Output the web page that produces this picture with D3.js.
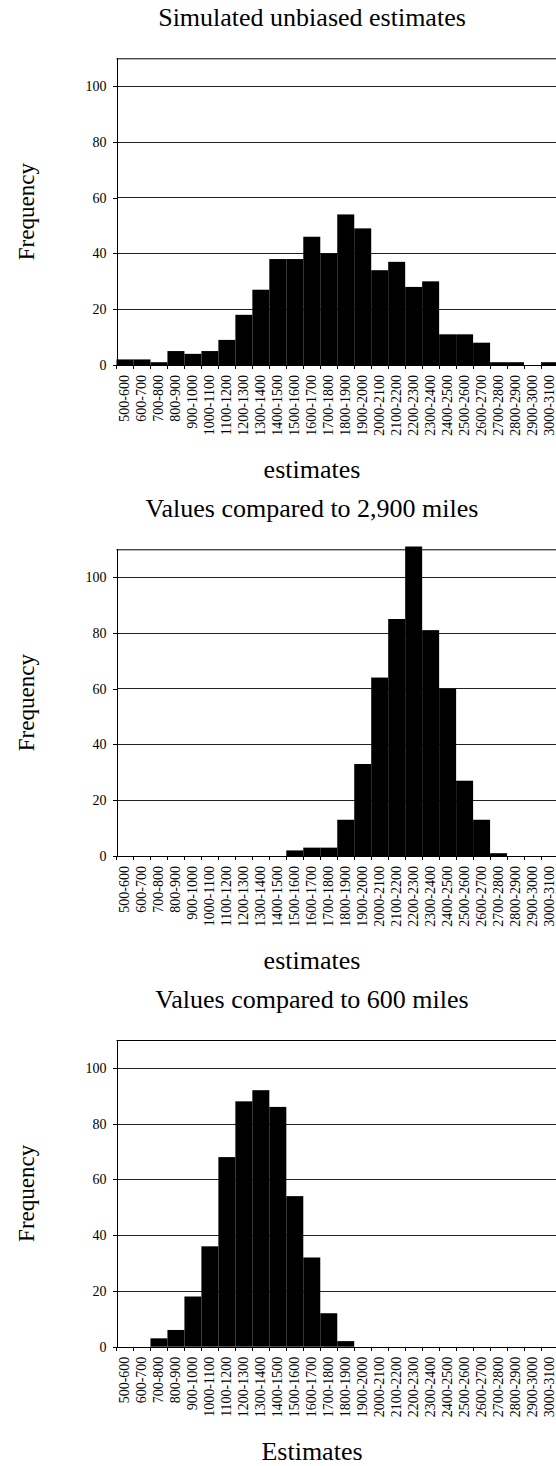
<!DOCTYPE html>
<html lang="en">
<head>
<meta charset="UTF-8">
<title>Histograms of estimates</title>
<script src="https://d3js.org/d3.v7.min.js"></script>
<style>
  body { margin: 0; background: #fff; }
  svg { display: block; font-family: "Liberation Serif", "Times New Roman", serif; }
  .axis path, .axis line { fill: none; stroke: #000; shape-rendering: crispEdges; }
  .axis text { font-family: "Liberation Serif", serif; font-size: 14px; fill: #000; }
  .grid line { stroke: #222; shape-rendering: crispEdges; }
  .bar { fill: #000; }
</style>
</head>
<body>
<script>
// bins of the estimates
var categories = ["500-600", "600-700", "700-800", "800-900", "900-1000", "1000-1100",
  "1100-1200", "1200-1300", "1300-1400", "1400-1500", "1500-1600", "1600-1700",
  "1700-1800", "1800-1900", "1900-2000", "2000-2100", "2100-2200", "2200-2300",
  "2300-2400", "2400-2500", "2500-2600", "2600-2700", "2700-2800", "2800-2900",
  "2900-3000", "3000-3100"];

var unbiased = [2, 2, 1, 5, 4, 5, 9, 18, 27, 38, 38, 46, 40, 54, 49, 34, 37, 28, 30, 11, 11, 8, 1, 1, 0, 1];
var vs2900   = [0, 0, 0, 0, 0, 0, 0, 0, 0, 0, 2, 3, 3, 13, 33, 64, 85, 111, 81, 60, 27, 13, 1, 0, 0, 0];
var vs600    = [0, 0, 3, 6, 18, 36, 68, 88, 92, 86, 54, 32, 12, 2, 0, 0, 0, 0, 0, 0, 0, 0, 0, 0, 0, 0];

var yTicks = [0, 20, 40, 60, 80, 100];
var titles = ["Simulated unbiased estimates", "Values compared to 2,900 miles", "Values compared to 600 miles"];
var xTitles = ["estimates", "estimates", "Estimates"];
var yTitle = "Frequency";

var width = 556, height = 1466;
var plotLeft = 116.5, plotW = 441.5, plotH = 306.7;
var panelTops = [58.3, 549.3, 1040];

var svg = d3.select("body").append("svg")
  .attr("width", width)
  .attr("height", height);

var x = d3.scaleBand()
  .domain(categories)
  .range([0, plotW])
  .padding(0);

var y = d3.scaleLinear()
  .domain([0, 110])
  .range([plotH, 0]);

function drawPanel(i, values) {
  var g = svg.append("g")
    .attr("transform", "translate(" + plotLeft + "," + panelTops[i] + ")");

  // gridlines
  g.append("g").attr("class", "grid")
    .selectAll("line")
    .data(yTicks.slice(1)).enter()
    .append("line")
    .attr("x1", 0).attr("x2", plotW)
    .attr("y1", function(d) { return Math.round(y(d)) + 0.5; })
    .attr("y2", function(d) { return Math.round(y(d)) + 0.5; });

  // plot frame (top)
  g.append("line")
    .attr("x1", 0).attr("x2", plotW)
    .attr("y1", 0.5).attr("y2", 0.5)
    .attr("stroke", "#000");

  // bars
  g.append("g")
    .selectAll(".bar")
    .data(values).enter()
    .append("rect").attr("class", "bar")
    .attr("x", function(d, j) { return x(categories[j]); })
    .attr("width", x.bandwidth())
    .attr("y", function(d) { return y(d); })
    .attr("height", function(d) { return plotH - y(d); });

  // y axis
  var yAxis = g.append("g").attr("class", "axis")
    .call(d3.axisLeft(y).tickValues(yTicks).tickSize(4).tickPadding(6).tickSizeOuter(0));
  yAxis.select(".domain").attr("d", "M0.5," + plotH + "V0");

  // x axis, ticks on bin edges
  var xAxis = g.append("g").attr("class", "axis")
    .attr("transform", "translate(0," + plotH + ")")
    .call(d3.axisBottom(x).tickSize(4).tickSizeOuter(0));
  xAxis.selectAll(".tick line")
    .attr("transform", "translate(" + (-x.bandwidth() / 2) + ",0)");
  xAxis.selectAll(".tick text")
    .attr("transform", "rotate(-90)")
    .attr("text-anchor", "end")
    .attr("x", -10)
    .attr("y", 0)
    .attr("dy", "0.3em");

  // titles
  svg.append("text")
    .attr("x", 312)
    .attr("y", panelTops[i] - 32)
    .attr("text-anchor", "middle")
    .style("font-size", "26px")
    .text(titles[i]);

  svg.append("text")
    .attr("x", 312)
    .attr("y", panelTops[i] + plotH + 113)
    .attr("text-anchor", "middle")
    .style("font-size", "26px")
    .text(xTitles[i]);

  svg.append("text")
    .attr("transform", "translate(34," + (panelTops[i] + plotH / 2) + ") rotate(-90)")
    .attr("text-anchor", "middle")
    .style("font-size", "23px")
    .text(yTitle);
}

drawPanel(0, unbiased);
drawPanel(1, vs2900);
drawPanel(2, vs600);
</script>
</body>
</html>
